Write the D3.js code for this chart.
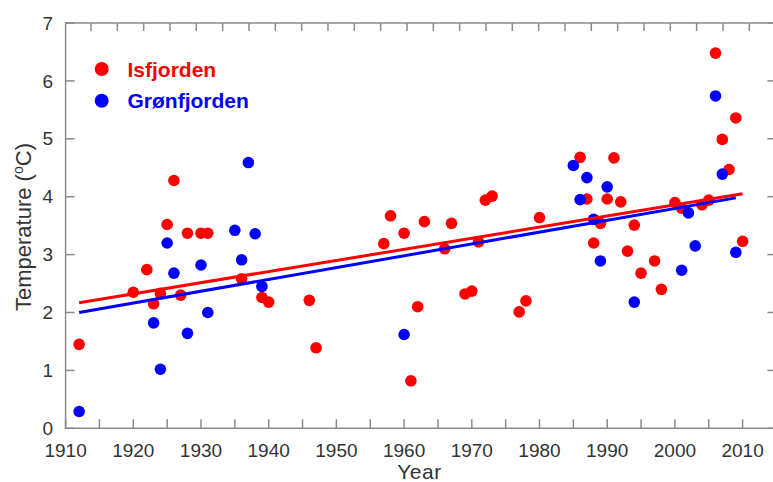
<!DOCTYPE html>
<html><head><meta charset="utf-8">
<script src="https://cdn.jsdelivr.net/npm/d3@7/dist/d3.min.js"></script>
<style>body{margin:0;background:#fff}svg{display:block}</style>
</head><body>
<script>
// Isfjorden (red)
const isYears = [1912,1920,1922,1923,1924,1925,1926,1927,1928,1930,1931,1936,1939,1940,1946,1947,1957,1958,1960,1961,1962,1963,1966,1967,1969,1970,1971,1972,1973,1977,1978,1980,1986,1987,1988,1989,1990,1991,1992,1993,1994,1995,1997,1998,2000,2001,2004,2005,2006,2007,2008,2009,2010];
const isTemps = [1.45,2.35,2.74,2.15,2.33,3.52,4.28,2.30,3.37,3.37,3.37,2.58,2.26,2.18,2.21,1.39,3.19,3.67,3.37,0.82,2.10,3.57,3.10,3.54,2.32,2.37,3.22,3.94,4.01,2.01,2.20,3.64,4.68,3.96,3.20,3.54,3.96,4.67,3.91,3.06,3.51,2.68,2.89,2.40,3.90,3.80,3.86,3.94,6.48,4.99,4.47,5.36,3.23];
// Grønfjorden (blue)
const grYears = [1912,1923,1924,1925,1926,1928,1930,1931,1935,1936,1937,1938,1939,1960,1985,1986,1987,1988,1989,1990,1994,2001,2002,2003,2006,2007,2009];
const grTemps = [0.29,1.82,1.02,3.20,2.68,1.64,2.82,2.00,3.42,2.91,4.59,3.36,2.45,1.62,4.54,3.95,4.33,3.61,2.89,4.17,2.18,2.73,3.72,3.15,5.74,4.39,3.04];
// trend lines [year, temp]
const isTrend = [[1912,2.17],[2010,4.05]];
const grTrend = [[1912,2.00],[2009,3.98]];
const xTickValues = d3.range(1910, 2015, 5);
const xLabelValues = d3.range(1910, 2011, 10);
const yTickValues = d3.range(0, 8, 1);
const legendItems = ["Isfjorden", "Grønfjorden"];

const W = 773, H = 482;
const svg = d3.select("body").append("svg").attr("width", W).attr("height", H);
const x = d3.scaleLinear().domain([1910, 2010]).range([65.6, 742.6]);
const y = d3.scaleLinear().domain([0, 7]).range([428.3, 23]);
const xRightEdge = 2015;
const topScale = d3.scaleLinear().domain([0, 25]).range([91, 749.3]);
const axisCol = "#8a8a8a", textCol = "#333";
const colors = ["#ff0000", "#0000ff"];
const font = "Liberation Sans, Arial, sans-serif";

const g = svg.append("g");
// box
g.append("rect").attr("x", x(1910)).attr("y", y(7))
  .attr("width", x(xRightEdge) - x(1910)).attr("height", y(0) - y(7))
  .attr("fill", "none").attr("stroke", axisCol).attr("stroke-width", 1.5);
// bottom ticks
g.selectAll(".bt").data(xTickValues).enter().append("line")
  .attr("x1", d => x(d)).attr("x2", d => x(d)).attr("y1", y(0)).attr("y2", y(0) - 9)
  .attr("stroke", axisCol).attr("stroke-width", 1.5);
// top ticks
g.selectAll(".tt").data(d3.range(0, 26)).enter().append("line")
  .attr("x1", d => topScale(d)).attr("x2", d => topScale(d)).attr("y1", y(7)).attr("y2", y(7) + 8)
  .attr("stroke", axisCol).attr("stroke-width", 1.5);
// left ticks
g.selectAll(".lt").data(yTickValues).enter().append("line")
  .attr("x1", x(1910)).attr("x2", x(1910) + 9).attr("y1", d => y(d)).attr("y2", d => y(d))
  .attr("stroke", axisCol).attr("stroke-width", 1.5);
// right ticks
g.selectAll(".rt").data(yTickValues).enter().append("line")
  .attr("x1", x(xRightEdge)).attr("x2", x(xRightEdge) - 9).attr("y1", d => y(d)).attr("y2", d => y(d))
  .attr("stroke", axisCol).attr("stroke-width", 1.5);
// labels
g.selectAll(".xl").data(xLabelValues).enter().append("text")
  .attr("x", d => x(d)).attr("y", 457).attr("text-anchor", "middle")
  .attr("font-family", font).attr("font-size", 19).attr("fill", textCol)
  .text(d => d);
g.selectAll(".yl").data(yTickValues).enter().append("text")
  .attr("x", 53).attr("y", d => y(d)).attr("text-anchor", "end").attr("dy", "0.35em")
  .attr("font-family", font).attr("font-size", 19).attr("fill", textCol)
  .text(d => d);
svg.append("text").attr("x", 419.5).attr("y", 479).attr("text-anchor", "middle")
  .attr("font-family", font).attr("font-size", 21).attr("fill", textCol)
  .attr("letter-spacing", 0.5).text("Year");
const yl = svg.append("text").attr("transform", "translate(31,311) rotate(-90)")
  .attr("text-anchor", "start")
  .attr("font-family", font).attr("font-size", 22).attr("fill", textCol);
yl.append("tspan").text("Temperature (");
yl.append("tspan").attr("font-size", 14).attr("dy", -8).text("o");
yl.append("tspan").attr("dy", 8).text("C)");

// dots
const series = [
  {years: isYears, temps: isTemps, col: colors[0]},
  {years: grYears, temps: grTemps, col: colors[1]}
];
series.forEach(s => {
  g.selectAll(null).data(s.years.map((yr, i) => [yr, s.temps[i]])).enter().append("circle")
    .attr("cx", d => x(d[0])).attr("cy", d => y(d[1])).attr("r", 5.8).attr("fill", s.col);
});
// trend lines
const line = d3.line().x(d => x(d[0])).y(d => y(d[1]));
[[isTrend, colors[0]], [grTrend, colors[1]]].forEach(([t, c]) => {
  g.append("path").attr("d", line(t)).attr("fill", "none").attr("stroke", c).attr("stroke-width", 3);
});
// legend
legendItems.forEach((name, i) => {
  const cy = 69 + i * 31.7;
  svg.append("circle").attr("cx", 101.7).attr("cy", cy).attr("r", 7).attr("fill", colors[i]);
  svg.append("text").attr("x", 127.5).attr("y", cy).attr("dy", "0.36em")
    .attr("font-family", font).attr("font-weight", "bold")
    .attr("font-size", 21).attr("fill", colors[i]).text(name);
});
</script>
</body></html>
